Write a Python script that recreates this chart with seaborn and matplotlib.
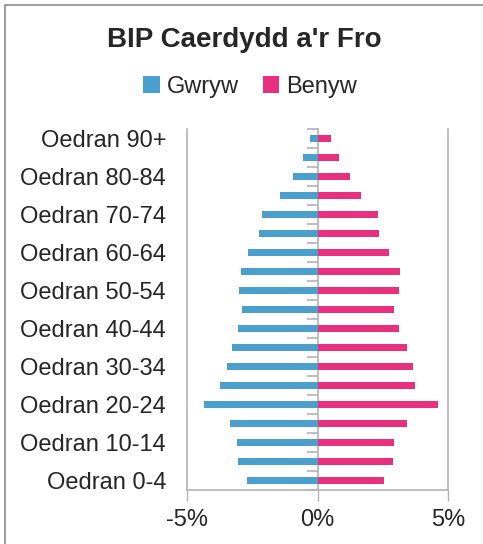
import pandas as pd
import seaborn as sns
import matplotlib.pyplot as plt
from matplotlib.patches import Rectangle

sns.set_theme(style="white")
plt.rcParams['font.family'] = ['Liberation Sans', 'DejaVu Sans']

# age groups, top of the chart first
ages = ["Oedran 90+", "Oedran 85-89", "Oedran 80-84", "Oedran 75-79", "Oedran 70-74",
        "Oedran 65-69", "Oedran 60-64", "Oedran 55-59", "Oedran 50-54", "Oedran 45-49",
        "Oedran 40-44", "Oedran 35-39", "Oedran 30-34", "Oedran 25-29", "Oedran 20-24",
        "Oedran 15-19", "Oedran 10-14", "Oedran 5-9", "Oedran 0-4"]
gwryw = [0.29, 0.54, 0.95, 1.43, 2.14, 2.24, 2.65, 2.95, 3.02, 2.88,
         3.06, 3.28, 3.46, 3.73, 4.36, 3.36, 3.10, 3.06, 2.69]
benyw = [0.53, 0.82, 1.25, 1.67, 2.32, 2.35, 2.75, 3.17, 3.12, 2.94,
         3.12, 3.42, 3.64, 3.72, 4.60, 3.42, 2.92, 2.88, 2.56]
xticks = [-5, 0, 5]
xticklabels = ["-5%", "0%", "5%"]

df = pd.DataFrame({
    "age": ages * 2,
    "sex": ["Gwryw"] * len(ages) + ["Benyw"] * len(ages),
    "value": [-v for v in gwryw] + benyw,
})

gray = "#B3B3B3"
fig = plt.figure(figsize=(4.83, 5.44), dpi=100)
ax = fig.add_axes([187 / 483, 1 - 490 / 544, (448 - 187) / 483, (490 - 129) / 544])

sns.barplot(data=df, x="value", y="age", hue="sex", order=ages, dodge=False,
            palette={"Gwryw": "#4A9FCC", "Benyw": "#E8307F"}, width=0.4,
            saturation=1, linewidth=0, orient="h", ax=ax, legend=True)

handles, labels = ax.get_legend_handles_labels()
ax.get_legend().remove()

ax.set_xlim(-5, 5)
ax.set_ylim(len(ages) - 0.5, -0.5)
ax.set_xlabel("")
ax.set_ylabel("")
ax.set_xticks(xticks, xticklabels)
ax.set_yticks(range(0, len(ages), 2), ages[::2])
ax.tick_params(axis="x", bottom=True, length=8, width=1, color=gray, labelsize=17, pad=6)
ax.tick_params(axis="y", left=False, length=0, labelsize=17, pad=15)
for s in ["left", "bottom", "right"]:
    ax.spines[s].set_color(gray)
    ax.spines[s].set_linewidth(1.2)
ax.spines["top"].set_visible(False)

# zero line with category tick marks
sec = ax.secondary_yaxis(0.5)
sec.set_yticks([i - 0.5 for i in range(len(ages) + 1)], [""] * (len(ages) + 1))
sec.tick_params(direction="in", length=8, width=1.2, color=gray)
for s in sec.spines.values():
    s.set_color(gray)
    s.set_linewidth(1.2)

fig.text(0.505, 1 - 40 / 544, "BIP Caerdydd a'r Fro", ha="center", va="center",
         fontsize=20, fontweight="bold")
fig.legend(handles, labels, loc="center", bbox_to_anchor=(0.518, 1 - 87 / 544), ncol=2,
           frameon=False, fontsize=17, handlelength=0.7, handleheight=0.7,
           handletextpad=0.3, columnspacing=1.0)

fig.patches.append(Rectangle((5 / 483, -0.1), 1.2, 1.1 - 5 / 544, transform=fig.transFigure,
                             fill=False, edgecolor="#8C8C8C", linewidth=1.2))

fig.savefig("out.png", dpi=100)
